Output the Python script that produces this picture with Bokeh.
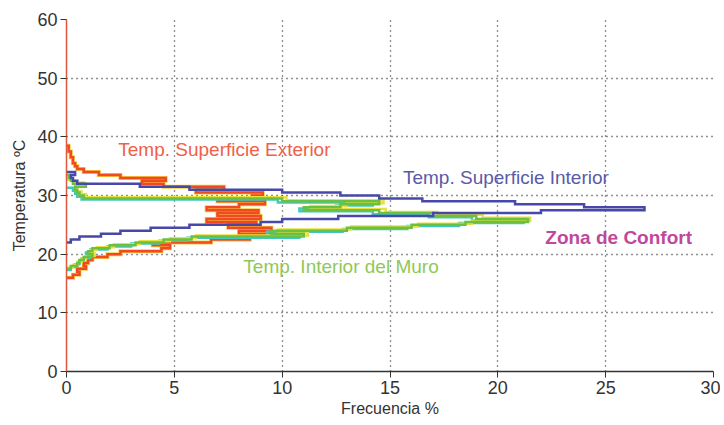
from bokeh.plotting import figure
from bokeh.models import Range1d, Label, FixedTicker
from bokeh.embed import file_html
from bokeh.resources import INLINE

# ---- data: frequency (%) per 0.5 degC temperature bin (lower edge) ----
BIN = 0.5

red_T = [16.0, 16.5, 17.0, 17.5, 18.0, 18.5, 19.0, 19.5, 20.0, 20.5, 21.0, 21.5,
         22.0, 22.5, 23.0, 23.5, 24.0, 24.5, 25.0, 25.5, 26.0, 26.5, 27.0, 27.5,
         28.0, 28.5, 29.0, 29.5, 30.0, 30.5, 31.0, 31.5, 32.0, 32.5, 33.0, 33.5,
         34.0, 34.5, 35.0, 35.5, 36.0, 36.5, 37.0, 37.5, 38.0]
red_f = [0.3, 0.6, 0.5, 0.9, 0.8, 1.0, 1.2, 1.9, 2.5, 4.4, 4.8, 4.0,
         6.7, 8.5, 9.7, 8.0, 9.5, 7.5, 8.8, 6.5, 9.0, 7.0, 8.9, 6.5,
         8.0, 9.2, 7.0, 8.6, 9.1, 6.0, 7.3, 4.5, 3.5, 4.6, 2.5, 1.5,
         0.8, 0.5, 0.4, 0.3, 0.3, 0.2, 0.2, 0.1, 0.1]

blue_T = [22.0, 22.5, 23.0, 23.5, 24.0, 24.5, 25.0, 25.5, 26.0, 26.5, 27.0, 27.5,
          28.0, 28.5, 29.0, 29.5, 30.0, 30.5, 31.0, 31.5, 32.0, 32.5, 33.0, 33.5]
blue_f = [0.2, 0.6, 1.6, 2.5, 3.9, 5.7, 9.0, 10.0, 12.6, 17.0, 22.0, 26.8,
          24.0, 20.8, 16.5, 14.5, 12.7, 10.0, 5.7, 3.4, 0.5, 0.3, 0.2, 0.4]

green_T = [17.5, 18.0, 18.5, 19.0, 19.5, 20.0, 20.5, 21.0, 21.5, 22.0, 22.5, 23.0,
           23.5, 24.0, 24.5, 25.0, 25.5, 26.0, 26.5, 27.0, 27.5, 28.0, 28.5, 29.0,
           29.5, 30.0, 30.5, 31.0, 31.5, 32.0, 32.5, 33.0]
green_f = [0.2, 0.5, 0.6, 0.8, 1.2, 1.0, 1.2, 2.0, 3.2, 4.5, 5.8, 11.0,
           9.5, 13.0, 16.0, 18.5, 21.4, 19.0, 17.0, 14.5, 11.0, 12.7, 14.5, 10.0,
           0.8, 0.6, 0.5, 0.4, 0.9, 0.3, 0.2, 0.1]

yellow_T = [17.7, 18.2, 18.7, 19.2, 19.7, 20.2, 20.7, 21.2, 21.7, 22.2, 22.7, 23.2,
            23.7, 24.2, 24.7, 25.2, 25.7, 26.2, 26.7, 27.2, 27.7, 28.2, 28.7, 29.2,
            29.7, 30.2, 30.7, 31.2, 31.7, 32.2]
yellow_f = [0.3, 0.5, 0.7, 0.9, 1.3, 1.1, 1.4, 2.2, 3.4, 4.8, 6.0, 11.2,
            9.8, 13.2, 16.3, 18.8, 21.5, 19.3, 17.2, 14.8, 11.3, 13.0, 14.7, 10.2,
            0.9, 0.7, 0.5, 0.4, 0.8, 0.3]

cyan_T = [17.3, 17.8, 18.3, 18.8, 19.3, 19.8, 20.3, 20.8, 21.3, 21.8, 22.3, 22.8,
          23.3, 23.8, 24.3, 24.8, 25.3, 25.8, 26.3, 26.8, 27.3, 27.8, 28.3, 28.8,
          29.3, 29.8, 30.3, 30.8]
cyan_f = [0.2, 0.4, 0.6, 0.7, 1.1, 0.9, 1.1, 1.9, 3.0, 4.3, 5.6, 10.8,
          9.3, 12.8, 15.8, 18.2, 21.2, 18.8, 16.8, 14.2, 10.8, 12.5, 14.2, 9.8,
          0.7, 0.5, 0.4, 0.3]

x_ticks = [0, 5, 10, 15, 20, 25, 30]
y_ticks = [0, 10, 20, 30, 40, 50, 60]


def stair(T, f):
    xs, ys = [0.0], [T[0]]
    for t, v in zip(T, f):
        xs += [v, v]
        ys += [t, t + BIN]
    xs.append(0.0)
    ys.append(T[-1] + BIN)
    return xs, ys


W, H = 720, 421
p = figure(width=W, height=H, output_backend="svg", toolbar_location=None,
           x_range=Range1d(0, 30), y_range=Range1d(0, 60),
           min_border_left=66, min_border_right=7, min_border_top=19,
           min_border_bottom=50, background_fill_color="white",
           border_fill_color="white")
p.outline_line_color = None

for ax in (p.xaxis, p.yaxis):
    ax.major_label_text_font = "Liberation Sans"
    ax.major_label_text_font_size = "18px"
    ax.major_label_text_color = "#333333"
    ax.axis_label_text_font = "Liberation Sans"
    ax.axis_label_text_font_size = "16px"
    ax.axis_label_text_font_style = "normal"
    ax.axis_label_text_color = "#333333"
    ax.minor_tick_line_color = None
    ax.major_tick_out = 6
    ax.major_tick_in = 0
    ax.major_tick_line_color = "#333333"
    ax.axis_line_width = 1.5

p.xaxis.axis_line_color = "#333333"
p.yaxis.axis_line_color = "#dd5a3e"

p.xaxis.ticker = FixedTicker(ticks=x_ticks)
p.yaxis.ticker = FixedTicker(ticks=y_ticks)
p.xaxis.axis_label = "Frecuencia %"
p.yaxis.axis_label = "Temperatura ºC"
p.xaxis.major_label_standoff = 3
p.yaxis.major_label_standoff = 3
p.xaxis.axis_label_standoff = 3
p.yaxis.axis_label_standoff = 6

p.xgrid.ticker = FixedTicker(ticks=[5, 10, 15, 20, 25, 30])
p.ygrid.ticker = FixedTicker(ticks=[10, 20, 30, 40, 50, 60])
for g in (p.xgrid, p.ygrid):
    g.grid_line_color = "#222222"
    g.grid_line_dash = "1 4"
    g.grid_line_width = 1.3

# histograms
xs, ys = stair(red_T, red_f)
p.line(xs, ys, line_color="#f5d040", line_width=4, line_join="miter")
p.line(xs, ys, line_color="#f04a24", line_width=2.5, line_join="miter")

xs, ys = stair(cyan_T, cyan_f)
p.line(xs, ys, line_color="#40c8c0", line_width=2.5, line_join="miter")
xs, ys = stair(yellow_T, yellow_f)
p.line(xs, ys, line_color="#e8e040", line_width=2.5, line_join="miter")
xs, ys = stair(green_T, green_f)
p.line(xs, ys, line_color="#6cc040", line_width=2.5, line_join="miter")

xs, ys = stair(blue_T, blue_f)
p.line(xs, ys, line_color="#4848a8", line_width=2.5, line_join="miter")

labels = [
    ("Temp. Superficie Exterior", 2.4, 37.8, "#f06048", "normal", "19px"),
    ("Temp. Superficie Interior", 15.6, 33.1, "#5a5aa8", "normal", "19px"),
    ("Temp. Interior del Muro", 8.2, 17.9, "#90c858", "normal", "19px"),
    ("Zona de Confort", 22.2, 22.8, "#c0489c", "bold", "19px"),
]
for txt, x, y, c, st, sz in labels:
    p.add_layout(Label(x=x, y=y, text=txt, text_color=c, text_font="Liberation Sans",
                       text_font_size=sz, text_font_style=st,
                       text_baseline="middle"))

open("out.html", "w").write(file_html(p, INLINE))
